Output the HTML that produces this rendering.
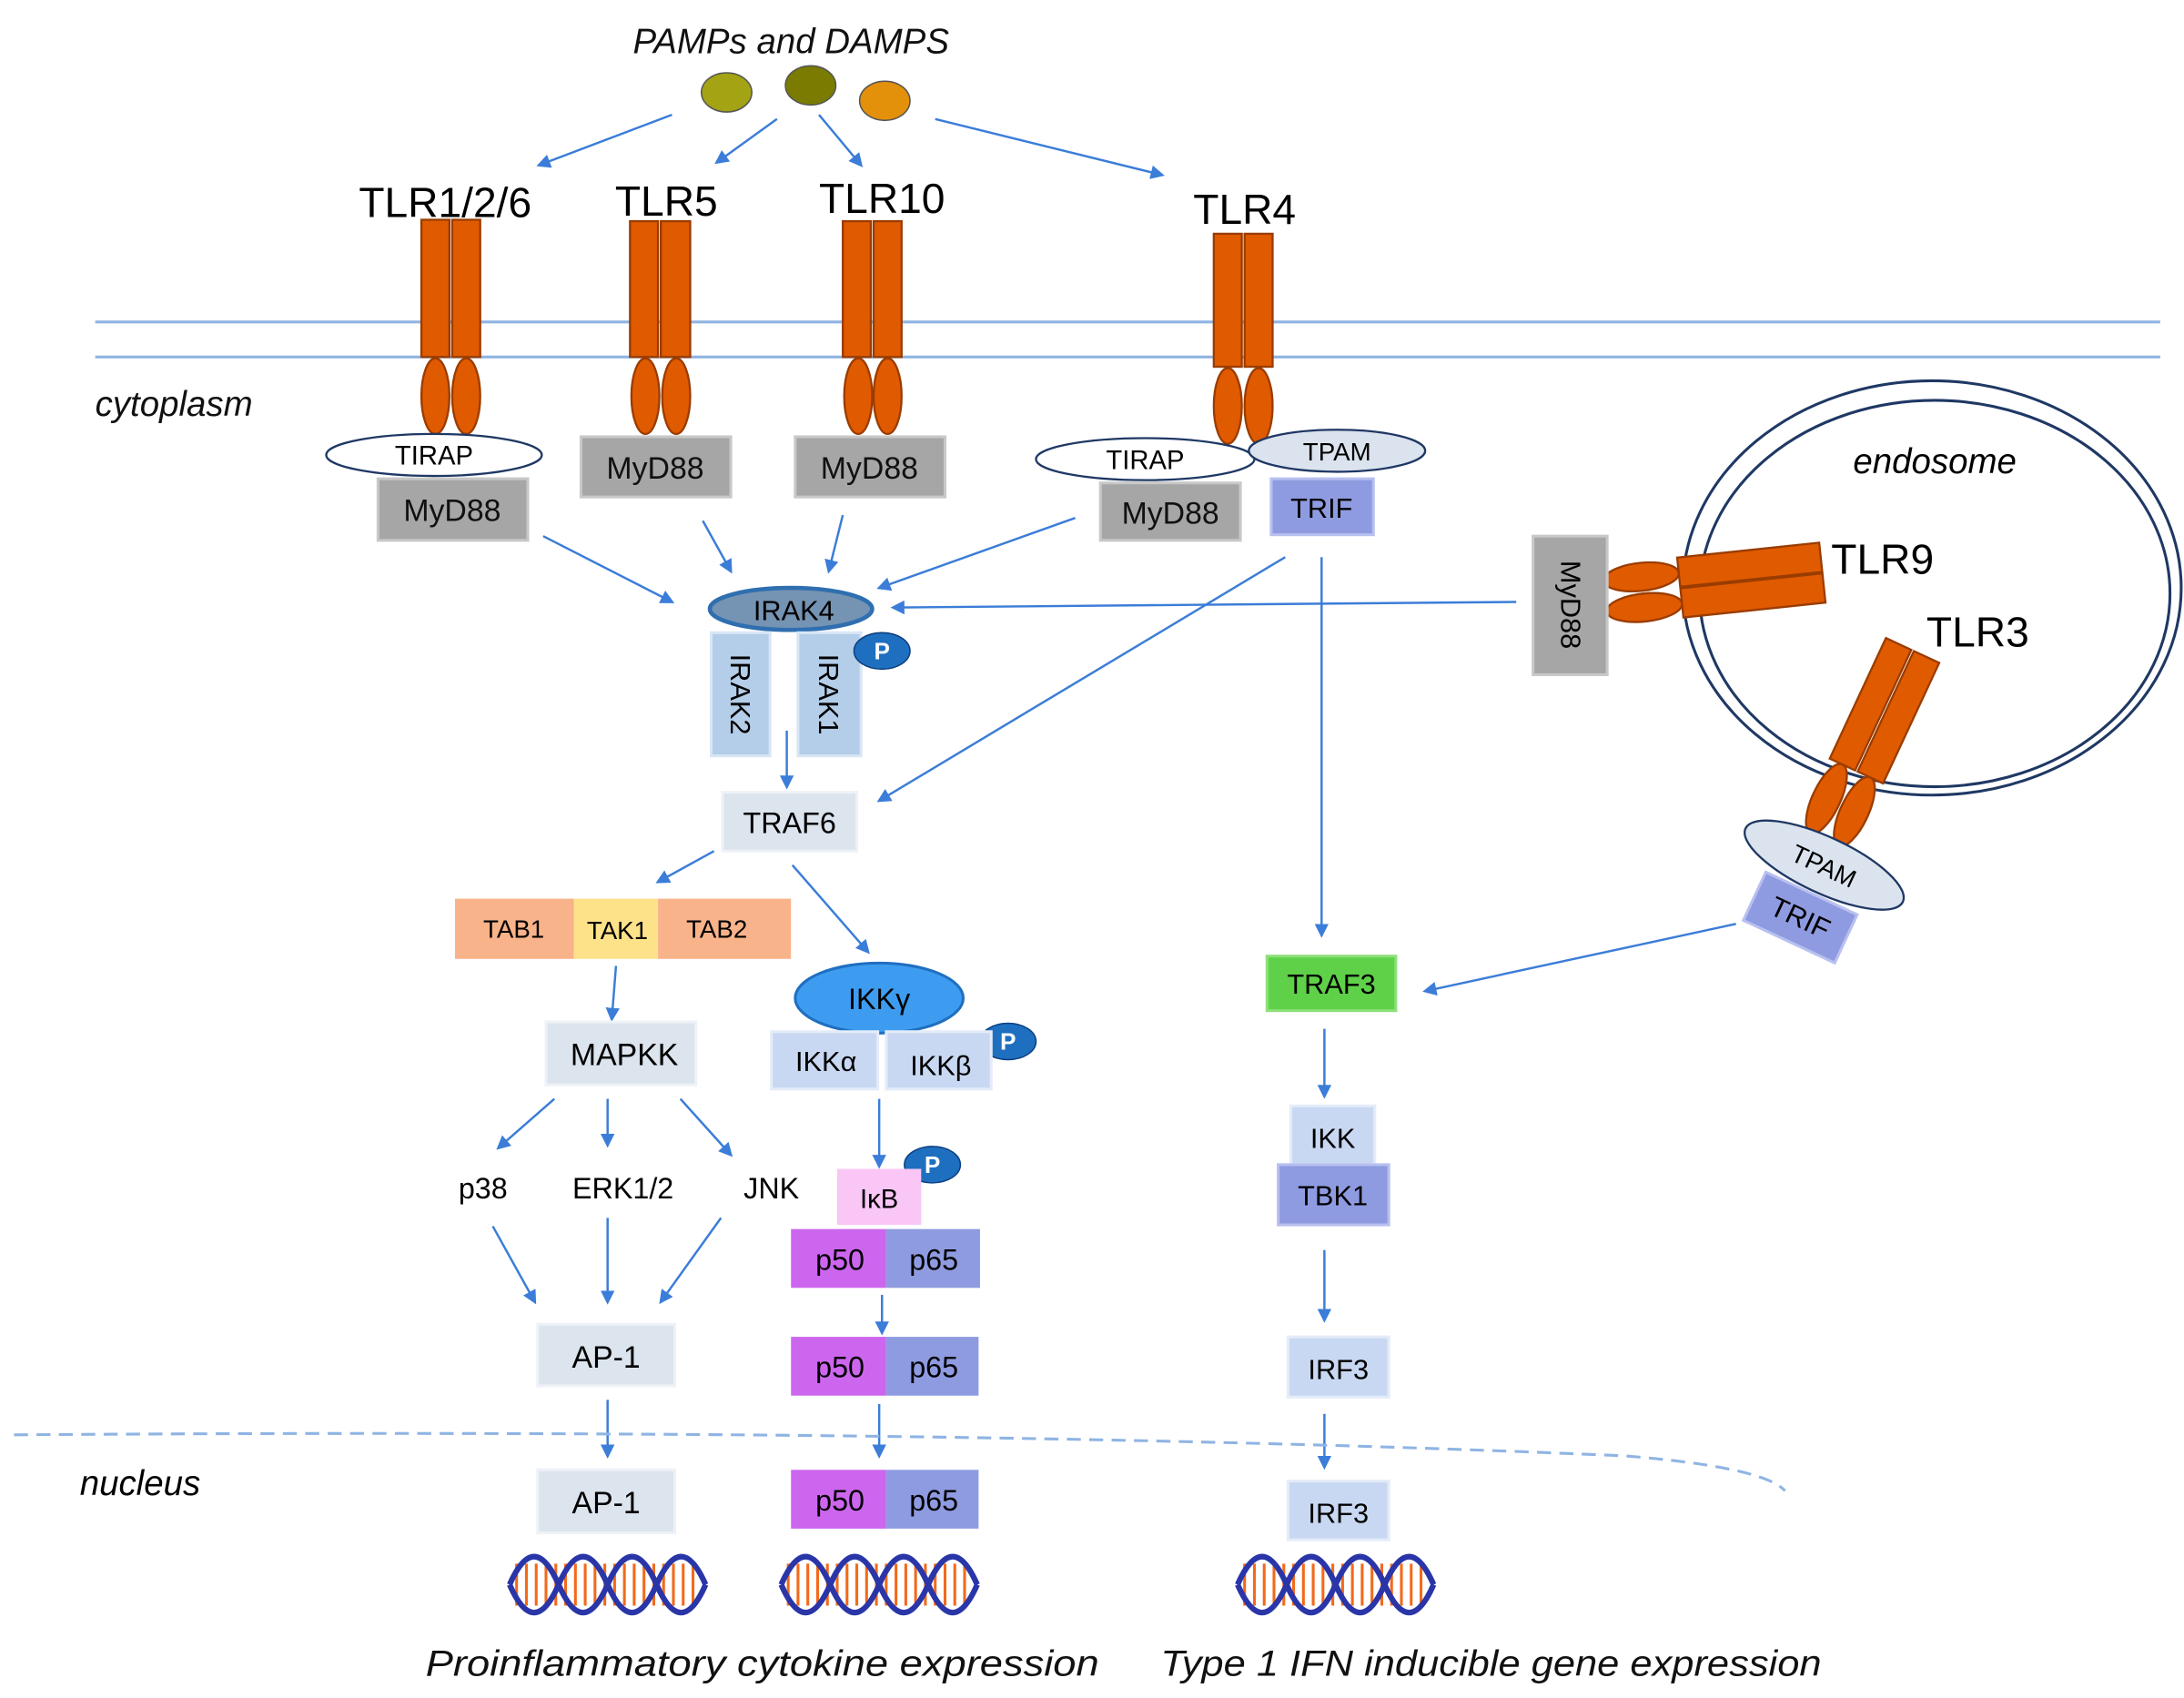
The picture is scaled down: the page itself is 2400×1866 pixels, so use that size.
<!DOCTYPE html>
<html><head><meta charset="utf-8"><style>html,body{margin:0;padding:0;background:#fff}svg{display:block}</style></head>
<body>
<svg width="2400" height="1866" viewBox="0 0 1560 1213" preserveAspectRatio="none" xmlns="http://www.w3.org/2000/svg" font-family="Liberation Sans, sans-serif">
<defs>
<marker id="a" markerWidth="10" markerHeight="10" refX="8" refY="5" orient="auto" markerUnits="userSpaceOnUse"><path d="M0,0 L10,5 L0,10 z" fill="#3b7dd8"/></marker>
<g id="dna">
<line x1="4" y1="0" x2="136" y2="0" stroke="#f26a1b" stroke-width="30" stroke-dasharray="2 5"/>
<path d="M0,0 Q17.5,-40 35,0 T70,0 T105,0 T140,0" fill="none" stroke="#2a35a8" stroke-width="4"/>
<path d="M0,0 Q17.5,40 35,0 T70,0 T105,0 T140,0" fill="none" stroke="#2a35a8" stroke-width="4"/>
</g>
</defs>
<rect width="1560" height="1213" fill="#fff"/>
<text x="565" y="38" font-size="25" font-style="italic" text-anchor="middle" fill="#111">PAMPs and DAMPS</text>
<ellipse cx="519" cy="66" rx="18" ry="14" fill="#a3a313" stroke="#555" stroke-width="1"/>
<ellipse cx="579" cy="61" rx="18" ry="14" fill="#7b7b02" stroke="#555" stroke-width="1"/>
<ellipse cx="632" cy="72" rx="18" ry="14" fill="#e3900a" stroke="#555" stroke-width="1"/>
<g stroke="#3b7dd8" stroke-width="1.6" fill="none" marker-end="url(#a)">
<line x1="480" y1="82" x2="385" y2="118"/><line x1="555" y1="85" x2="512" y2="116"/>
<line x1="585" y1="82" x2="615" y2="118"/><line x1="668" y1="85" x2="830" y2="125"/>
<line x1="388" y1="383" x2="480" y2="430"/><line x1="502" y1="372" x2="522" y2="408"/>
<line x1="602" y1="368" x2="592" y2="408"/><line x1="768" y1="370" x2="628" y2="420"/>
<line x1="1083" y1="430" x2="638" y2="434"/>
<line x1="918" y1="398" x2="628" y2="572"/><line x1="944" y1="398" x2="944" y2="668"/>
<line x1="562" y1="522" x2="562" y2="562"/>
<line x1="510" y1="608" x2="470" y2="630"/><line x1="566" y1="618" x2="620" y2="680"/>
<line x1="440" y1="690" x2="437" y2="728"/>
<line x1="396" y1="785" x2="356" y2="820"/><line x1="434" y1="785" x2="434" y2="818"/><line x1="486" y1="785" x2="522" y2="825"/>
<line x1="352" y1="876" x2="382" y2="930"/><line x1="434" y1="870" x2="434" y2="930"/><line x1="515" y1="870" x2="472" y2="930"/>
<line x1="434" y1="1000" x2="434" y2="1040"/>
<line x1="628" y1="785" x2="628" y2="833"/><line x1="630" y1="925" x2="630" y2="952"/><line x1="628" y1="1003" x2="628" y2="1040"/>
<line x1="1240" y1="660" x2="1018" y2="708"/>
<line x1="946" y1="735" x2="946" y2="783"/><line x1="946" y1="893" x2="946" y2="943"/><line x1="946" y1="1010" x2="946" y2="1048"/>
</g>
<line x1="68" y1="230" x2="1543" y2="230" stroke="#8fb4e3" stroke-width="2"/>
<line x1="68" y1="255" x2="1543" y2="255" stroke="#8fb4e3" stroke-width="2"/>
<text x="68" y="297" font-size="25" font-style="italic" fill="#111">cytoplasm</text>
<g font-size="30" fill="#000" text-anchor="middle">
<text x="318" y="155">TLR1/2/6</text><text x="476" y="154">TLR5</text><text x="630" y="152">TLR10</text><text x="889" y="160">TLR4</text>
</g>
<g fill="#e05a00" stroke="#9a3c00" stroke-width="1.5">
<rect x="301" y="157" width="20" height="98"/><rect x="323" y="157" width="20" height="98"/>
<ellipse cx="311" cy="283" rx="10" ry="27"/><ellipse cx="333" cy="283" rx="10" ry="27"/>
<rect x="450" y="158" width="20" height="97"/><rect x="472" y="158" width="21" height="97"/>
<ellipse cx="461" cy="283" rx="10" ry="27"/><ellipse cx="483" cy="283" rx="10" ry="27"/>
<rect x="602" y="158" width="20" height="97"/><rect x="624" y="158" width="20" height="97"/>
<ellipse cx="613" cy="283" rx="10" ry="27"/><ellipse cx="634" cy="283" rx="10" ry="27"/>
<rect x="867" y="167" width="20" height="95"/><rect x="889" y="167" width="20" height="95"/>
<ellipse cx="877" cy="290" rx="10" ry="27"/><ellipse cx="899" cy="290" rx="10" ry="27"/>
</g>
<ellipse cx="310" cy="325" rx="77" ry="15" fill="#fff" stroke="#1f3864" stroke-width="1.5"/>
<text x="310" y="332" font-size="19" text-anchor="middle">TIRAP</text>
<g fill="#a6a6a6" stroke="#c8c8c8" stroke-width="2">
<rect x="270" y="342" width="107" height="44"/><rect x="415" y="312" width="107" height="43"/>
<rect x="568" y="312" width="107" height="43"/><rect x="786" y="345" width="100" height="41"/>
</g>
<g font-size="22" text-anchor="middle" fill="#111">
<text x="323" y="372">MyD88</text><text x="468" y="342">MyD88</text><text x="621" y="342">MyD88</text><text x="836" y="374">MyD88</text>
</g>
<ellipse cx="818" cy="328" rx="78" ry="15" fill="#fff" stroke="#1f3864" stroke-width="1.5"/>
<text x="818" y="335" font-size="19" text-anchor="middle">TIRAP</text>
<ellipse cx="955" cy="322" rx="63" ry="15" fill="#dbe3ee" stroke="#1f3864" stroke-width="1.5"/>
<text x="955" y="329" font-size="18" text-anchor="middle">TPAM</text>
<rect x="908" y="342" width="73" height="40" fill="#8f9be0" stroke="#b8c0f0" stroke-width="2"/>
<text x="944" y="370" font-size="20" text-anchor="middle">TRIF</text>
<ellipse cx="565" cy="435" rx="58" ry="15" fill="#7593b3" stroke="#2f6fb0" stroke-width="3"/>
<text x="567" y="443" font-size="20" text-anchor="middle">IRAK4</text>
<rect x="508" y="452" width="42" height="88" fill="#b4cde8" stroke="#d8e6f5" stroke-width="2"/>
<rect x="570" y="452" width="45" height="88" fill="#b4cde8" stroke="#d8e6f5" stroke-width="2"/>
<text font-size="20" transform="translate(522,496) rotate(90)" text-anchor="middle">IRAK2</text>
<text font-size="20" transform="translate(585,496) rotate(90)" text-anchor="middle">IRAK1</text>
<g font-size="17" fill="#fff" text-anchor="middle" font-weight="bold">
<ellipse cx="630" cy="465" rx="20" ry="13" fill="#1f6fc0" stroke="#0d3f80"/><text x="630" y="471">P</text>
<ellipse cx="720" cy="744" rx="20" ry="13" fill="#1f6fc0" stroke="#0d3f80"/><text x="720" y="750">P</text>
<ellipse cx="666" cy="832" rx="20" ry="13" fill="#1f6fc0" stroke="#0d3f80"/><text x="666" y="838">P</text>
</g>
<rect x="516" y="566" width="96" height="42" fill="#dce4ee" stroke="#eef2f7" stroke-width="2"/>
<text x="564" y="595" font-size="21" text-anchor="middle">TRAF6</text>
<rect x="325" y="642" width="85" height="43" fill="#f9b38a"/><rect x="410" y="642" width="60" height="43" fill="#fde28a"/><rect x="470" y="642" width="95" height="43" fill="#f9b38a"/>
<g font-size="18" text-anchor="middle"><text x="367" y="670">TAB1</text><text x="441" y="671">TAK1</text><text x="512" y="670">TAB2</text></g>
<rect x="390" y="730" width="107" height="45" fill="#dce4ee" stroke="#eef2f7" stroke-width="2"/>
<text x="446" y="761" font-size="22" text-anchor="middle">MAPKK</text>
<g font-size="21" text-anchor="middle"><text x="345" y="856">p38</text><text x="445" y="856">ERK1/2</text><text x="551" y="856">JNK</text></g>
<rect x="384" y="946" width="98" height="44" fill="#dce4ee" stroke="#eef2f7" stroke-width="2"/>
<text x="433" y="977" font-size="22" text-anchor="middle">AP-1</text>
<rect x="384" y="1050" width="98" height="45" fill="#dce4ee" stroke="#eef2f7" stroke-width="2"/>
<text x="433" y="1081" font-size="22" text-anchor="middle">AP-1</text>
<ellipse cx="628" cy="713" rx="60" ry="25" fill="#3d9cf0" stroke="#1f6fc0" stroke-width="2"/>
<text x="628" y="721" font-size="21" text-anchor="middle">IKKγ</text>
<rect x="551" y="737" width="76" height="41" fill="#c9d8f2" stroke="#e4ecf9" stroke-width="2"/>
<rect x="633" y="737" width="75" height="41" fill="#c9d8f2" stroke="#e4ecf9" stroke-width="2"/>
<g font-size="20" text-anchor="middle"><text x="590" y="765">IKKα</text><text x="672" y="768">IKKβ</text></g>
<rect x="598" y="835" width="60" height="40" fill="#f9c6f5"/>
<text x="628" y="863" font-size="19" text-anchor="middle">IκB</text>
<g font-size="21" text-anchor="middle">
<rect x="565" y="878" width="68" height="42" fill="#cc66ee"/><rect x="633" y="878" width="67" height="42" fill="#8f9be0"/>
<text x="600" y="907">p50</text><text x="667" y="907">p65</text>
<rect x="565" y="955" width="68" height="42" fill="#cc66ee"/><rect x="633" y="955" width="66" height="42" fill="#8f9be0"/>
<text x="600" y="984">p50</text><text x="667" y="984">p65</text>
<rect x="565" y="1050" width="68" height="42" fill="#cc66ee"/><rect x="633" y="1050" width="66" height="42" fill="#8f9be0"/>
<text x="600" y="1079">p50</text><text x="667" y="1079">p65</text>
</g>
<!-- endosome -->
<ellipse cx="1380" cy="420" rx="178" ry="148" fill="none" stroke="#1f3864" stroke-width="2"/>
<ellipse cx="1382" cy="424" rx="168" ry="138" fill="#fff" stroke="#1f3864" stroke-width="2"/>
<text x="1382" y="338" font-size="25" font-style="italic" text-anchor="middle">endosome</text>
<g fill="#e05a00" stroke="#9a3c00" stroke-width="1.5" transform="rotate(-6 1250 415)">
<rect x="1200" y="393" width="102" height="21"/><rect x="1200" y="415" width="102" height="21"/>
<ellipse cx="1173" cy="404" rx="27" ry="10"/><ellipse cx="1173" cy="426" rx="27" ry="10"/>
</g>
<rect x="1095" y="383" width="53" height="99" fill="#a6a6a6" stroke="#c8c8c8" stroke-width="2"/>
<text font-size="20" transform="translate(1115,432) rotate(90)" text-anchor="middle">MyD88</text>
<g fill="#e05a00" stroke="#9a3c00" stroke-width="1.5" transform="rotate(25 1345 510)">
<rect x="1324" y="460" width="20" height="95"/><rect x="1346" y="460" width="20" height="95"/>
<ellipse cx="1334" cy="582" rx="10" ry="27"/><ellipse cx="1356" cy="582" rx="10" ry="27"/>
</g>
<g font-size="30" fill="#000">
<text x="1308" y="410">TLR9</text><text x="1376" y="462">TLR3</text>
</g>
<g transform="rotate(25 1303 618)">
<ellipse cx="1303" cy="618" rx="62" ry="20" fill="#dbe3ee" stroke="#1f3864" stroke-width="1.5"/>
<text x="1303" y="625" font-size="18" text-anchor="middle">TPAM</text>
</g>
<g transform="rotate(25 1285 655)">
<rect x="1250" y="636" width="72" height="38" fill="#8f9be0" stroke="#b8c0f0" stroke-width="2"/>
<text x="1286" y="662" font-size="20" text-anchor="middle">TRIF</text>
</g>
<rect x="905" y="683" width="92" height="39" fill="#5fd149" stroke="#8fe07a" stroke-width="2"/>
<text x="951" y="710" font-size="20" text-anchor="middle">TRAF3</text>
<rect x="922" y="790" width="60" height="42" fill="#c9d8f2" stroke="#e4ecf9" stroke-width="2"/>
<text x="952" y="820" font-size="20" text-anchor="middle">IKK</text>
<rect x="913" y="832" width="79" height="43" fill="#8f9be0" stroke="#b8c0f0" stroke-width="2"/>
<text x="952" y="861" font-size="20" text-anchor="middle">TBK1</text>
<rect x="920" y="955" width="72" height="43" fill="#c9d8f2" stroke="#e4ecf9" stroke-width="2"/>
<text x="956" y="985" font-size="20" text-anchor="middle">IRF3</text>
<rect x="920" y="1058" width="72" height="42" fill="#c9d8f2" stroke="#e4ecf9" stroke-width="2"/>
<text x="956" y="1088" font-size="20" text-anchor="middle">IRF3</text>
<path d="M10,1025 Q700,1020 1160,1040 Q1260,1048 1275,1065" fill="none" stroke="#8fb4e3" stroke-width="2" stroke-dasharray="10 6"/>
<text x="57" y="1068" font-size="25" font-style="italic">nucleus</text>
<use href="#dna" x="364" y="1132"/><use href="#dna" x="558" y="1132"/><use href="#dna" x="884" y="1132"/>
<g font-size="26" font-style="italic" fill="#111">
<text x="304" y="1197" textLength="481" lengthAdjust="spacingAndGlyphs">Proinflammatory cytokine expression</text>
<text x="829" y="1197" textLength="472" lengthAdjust="spacingAndGlyphs">Type 1 IFN inducible gene expression</text>
</g>
</svg>
</body></html>
